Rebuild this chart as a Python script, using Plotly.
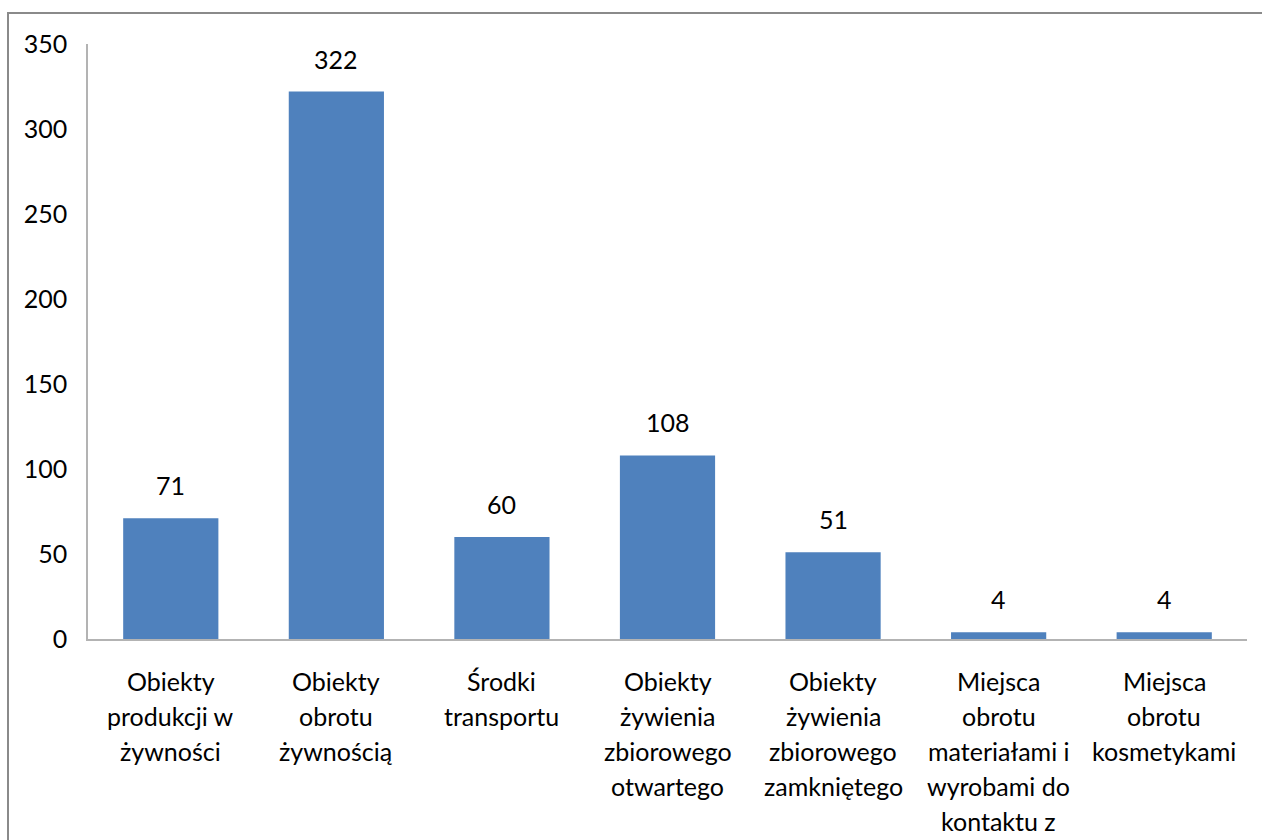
import plotly.graph_objects as go

# Categories, their wrapped axis labels, and counts
categories = [
    "Obiekty produkcji w żywności",
    "Obiekty obrotu żywnością",
    "Środki transportu",
    "Obiekty żywienia zbiorowego otwartego",
    "Obiekty żywienia zbiorowego zamkniętego",
    "Miejsca obrotu materiałami i wyrobami do kontaktu z",
    "Miejsca obrotu kosmetykami",
]
label_lines = [
    ["Obiekty", "produkcji w", "żywności"],
    ["Obiekty", "obrotu", "żywnością"],
    ["Środki", "transportu"],
    ["Obiekty", "żywienia", "zbiorowego", "otwartego"],
    ["Obiekty", "żywienia", "zbiorowego", "zamkniętego"],
    ["Miejsca", "obrotu", "materiałami i", "wyrobami do", "kontaktu z"],
    ["Miejsca", "obrotu", "kosmetykami"],
]
values = [71, 322, 60, 108, 51, 4, 4]
y_ticks = [0, 50, 100, 150, 200, 250, 300, 350]

FONT = "Lato, 'Open Sans', sans-serif"
FS = 25
LINE_STEP = 35
W, H = 1262, 840
ML, MR, MT, MB = 88, 15, 44, 201
PW, PH = W - ML - MR, H - MT - MB

fig = go.Figure(
    go.Bar(
        x=categories,
        y=values,
        marker=dict(color="#4F81BD", line=dict(width=0)),
        width=0.575,
        hoverinfo="x+y",
    )
)

# value labels above bars
for c, v in zip(categories, values):
    fig.add_annotation(
        x=c, y=v, text=str(v), showarrow=False,
        yanchor="bottom", yshift=16,
        font=dict(family=FONT, size=FS, color="#000000"),
    )

# category labels, one line at a time for Excel-like line spacing
for c, lines in zip(categories, label_lines):
    for i, line in enumerate(lines):
        fig.add_annotation(
            x=c, y=0, text=line, showarrow=False,
            xanchor="center", yanchor="middle",
            yshift=-(42 + i * LINE_STEP),
            font=dict(family=FONT, size=FS, color="#000000"),
        )

# outer chart frame (left and top edges visible)
fig.add_shape(
    type="rect", xref="paper", yref="paper",
    x0=(8 - ML) / PW, x1=(W + 20 - ML) / PW,
    y0=-(H + 20 - MT - PH) / PH, y1=(H - 13 - MB) / PH,
    line=dict(color="#8a8a8a", width=2), fillcolor="rgba(0,0,0,0)",
    layer="below",
)

fig.update_layout(
    width=W, height=H,
    margin=dict(l=ML, r=MR, t=MT, b=MB, pad=0),
    paper_bgcolor="white", plot_bgcolor="white",
    showlegend=False,
    font=dict(family=FONT, size=FS, color="#000000"),
    xaxis=dict(
        showline=True, linecolor="#b3b3b3", linewidth=1.5,
        ticks="", showgrid=False, showticklabels=False,
    ),
    yaxis=dict(
        range=[0, 350], tickvals=y_ticks,
        showline=True, linecolor="#b3b3b3", linewidth=1.5,
        ticks="", showgrid=False, zeroline=False,
        tickfont=dict(family=FONT, size=FS),
        ticklabelstandoff=14,
    ),
)

fig.write_html("out.html", config={"displayModeBar": False})
